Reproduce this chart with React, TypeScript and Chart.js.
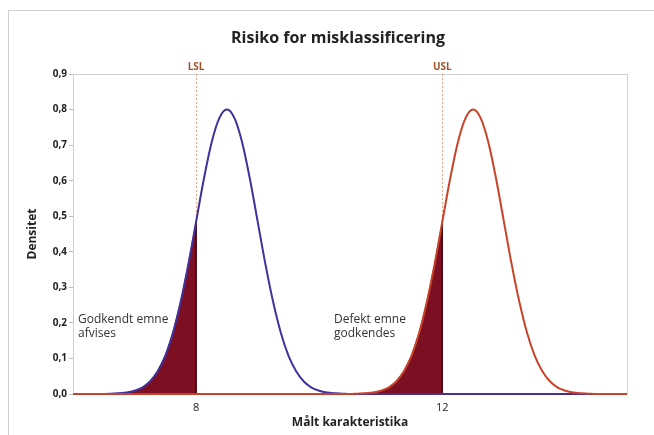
import React, { useEffect, useRef } from "react";
import { Chart, registerables } from "chart.js";

Chart.register(...registerables);

// Data
const blueX = [6, 6.5, 6.625, 6.75, 6.875, 7, 7.125, 7.25, 7.375, 7.5, 7.625, 7.75, 7.875, 8, 8.125, 8.25, 8.375, 8.5, 8.625, 8.75, 8.875, 9, 9.125, 9.25, 9.375, 9.5, 9.625, 9.75, 9.875, 10, 10.125, 10.25, 10.375, 10.5, 15];
const blueY = [0, 0, 0.001, 0.002, 0.004, 0.009, 0.018, 0.035, 0.064, 0.108, 0.173, 0.26, 0.366, 0.485, 0.604, 0.706, 0.775, 0.8, 0.775, 0.706, 0.604, 0.485, 0.366, 0.26, 0.173, 0.108, 0.064, 0.035, 0.018, 0.009, 0.004, 0.002, 0.001, 0, 0];
const redX = [6, 10.5, 10.625, 10.75, 10.875, 11, 11.125, 11.25, 11.375, 11.5, 11.625, 11.75, 11.875, 12, 12.125, 12.25, 12.375, 12.5, 12.625, 12.75, 12.875, 13, 13.125, 13.25, 13.375, 13.5, 13.625, 13.75, 13.875, 14, 14.125, 14.25, 14.375, 14.5, 15];
const redY = [0, 0, 0.001, 0.002, 0.004, 0.009, 0.018, 0.035, 0.064, 0.108, 0.173, 0.26, 0.366, 0.485, 0.604, 0.706, 0.775, 0.8, 0.775, 0.706, 0.604, 0.485, 0.366, 0.26, 0.173, 0.108, 0.064, 0.035, 0.018, 0.009, 0.004, 0.002, 0.001, 0, 0];
const LSL = 8;
const USL = 12;
const xTickValues = [8, 12];
const yMin = 0;
const yMax = 0.9;
const xMin = 6;
const xMax = 15;

const pts = (xs: number[], ys: number[]) => xs.map((x, i) => ({ x, y: ys[i] }));
const tailUpTo = (xs: number[], ys: number[], limit: number) => {
  const out: { x: number; y: number }[] = [];
  xs.forEach((x, i) => {
    if (x <= limit && ys[i] > 0) out.push({ x, y: ys[i] });
  });
  out.unshift({ x: out[0].x - 0.125, y: 0 });
  out.push({ x: limit, y: 0 });
  return out;
};

const FONT = "'Open Sans', 'Noto Sans', sans-serif";

const decorPlugin = {
  id: "decor",
  beforeDatasetsDraw(chart: any) {
    const { ctx, chartArea: a, scales } = chart;
    ctx.save();
    ctx.strokeStyle = "#d0d0d0";
    ctx.lineWidth = 1;
    ctx.strokeRect(a.left + 0.5, a.top + 0.5, a.right - a.left, a.bottom - a.top);
    ctx.strokeStyle = "#e9a27e";
    ctx.setLineDash([2, 2]);
    [LSL, USL].forEach((v) => {
      const x = Math.round(scales.x.getPixelForValue(v)) + 0.5;
      ctx.beginPath();
      ctx.moveTo(x, a.top);
      ctx.lineTo(x, a.bottom);
      ctx.stroke();
    });
    ctx.restore();
  },
  afterDraw(chart: any) {
    const { ctx, chartArea: a, scales } = chart;
    ctx.save();
    // outer frame
    ctx.strokeStyle = "#cfcfcf";
    ctx.lineWidth = 1;
    ctx.beginPath();
    ctx.moveTo(8.5, 435);
    ctx.lineTo(8.5, 10.5);
    ctx.lineTo(654, 10.5);
    ctx.stroke();
    // title
    ctx.fillStyle = "#222";
    ctx.textAlign = "center";
    ctx.textBaseline = "middle";
    ctx.font = `bold 16px ${FONT}`;
    ctx.fillText("Risiko for misklassificering", 338, 38);
    // spec labels
    ctx.font = `bold 10px ${FONT}`;
    ctx.fillStyle = "#a0522d";
    ctx.fillText("LSL", scales.x.getPixelForValue(LSL), 67);
    ctx.fillText("USL", scales.x.getPixelForValue(USL), 67);
    // axis titles
    ctx.fillStyle = "#222";
    ctx.font = `bold 12px ${FONT}`;
    ctx.fillText("Målt karakteristika", (a.left + a.right) / 2, 423);
    ctx.save();
    ctx.translate(33, (a.top + a.bottom) / 2);
    ctx.rotate(-Math.PI / 2);
    ctx.fillText("Densitet", 0, 0);
    ctx.restore();
    // annotations
    ctx.font = `12px ${FONT}`;
    ctx.fillStyle = "#333";
    ctx.textAlign = "left";
    ctx.fillText("Godkendt emne", 78, 320);
    ctx.fillText("afvises", 78, 334);
    ctx.fillText("Defekt emne", 334, 320);
    ctx.fillText("godkendes", 334, 334);
    ctx.restore();
  },
};

export default function App() {
  const ref = useRef<HTMLCanvasElement | null>(null);
  useEffect(() => {
    if (!ref.current) return;
    const chart = new Chart(ref.current, {
      type: "line",
      data: {
        datasets: [
          {
            label: "red",
            data: pts(redX, redY),
            borderColor: "#c9432a",
            borderWidth: 2,
            pointRadius: 0,
            cubicInterpolationMode: "monotone",
            fill: false,
            clip: 3,
            order: 1,
          },
          {
            label: "blue",
            data: pts(blueX, blueY),
            borderColor: "#43309c",
            borderWidth: 2,
            pointRadius: 0,
            cubicInterpolationMode: "monotone",
            fill: false,
            clip: 3,
            order: 2,
          },
          {
            label: "fillL",
            data: tailUpTo(blueX, blueY, LSL),
            borderColor: "#4a0a14",
            borderWidth: 1,
            backgroundColor: "#7d0f22",
            pointRadius: 0,
            fill: "origin",
            order: 3,
          },
          {
            label: "fillU",
            data: tailUpTo(redX, redY, USL),
            borderColor: "#4a0a14",
            borderWidth: 1,
            backgroundColor: "#7d0f22",
            pointRadius: 0,
            fill: "origin",
            order: 4,
          },
        ],
      },
      options: {
        animation: false,
        responsive: false,
        devicePixelRatio: 1,
        layout: { padding: { left: 0, top: 74, right: 27, bottom: 0 } },
        plugins: { legend: { display: false }, tooltip: { enabled: false }, title: { display: false } },
        scales: {
          x: {
            type: "linear",
            min: xMin,
            max: xMax,
            afterFit: (s: any) => { s.height = 41; },
            afterBuildTicks: (s: any) => { s.ticks = xTickValues.map((v) => ({ value: v })); },
            grid: { display: true, drawOnChartArea: false, drawTicks: false },
            border: { color: "#d0d0d0" },
            ticks: { padding: 7, color: "#222", font: { family: FONT, size: 11 }, callback: (v: any) => String(v), maxRotation: 0 },
          },
          y: {
            min: yMin,
            max: yMax,
            afterFit: (s: any) => { s.width = 73; },
            grid: { display: true, drawOnChartArea: false, drawTicks: true, tickLength: 4, color: "#bbb" },
            border: { color: "#d0d0d0" },
            ticks: {
              stepSize: 0.1,
              padding: 2,
              color: "#222",
              font: { family: FONT, size: 10, weight: "bold" },
              callback: (v: any) => Number(v).toFixed(1).replace(".", ","),
            },
          },
        },
      },
      plugins: [decorPlugin],
    } as any);
    return () => chart.destroy();
  }, []);
  return (
    <div style={{ position: "fixed", left: 0, top: 0, width: 654, height: 435, background: "#fff" }}>
      <canvas ref={ref} width={654} height={435} />
    </div>
  );
}
